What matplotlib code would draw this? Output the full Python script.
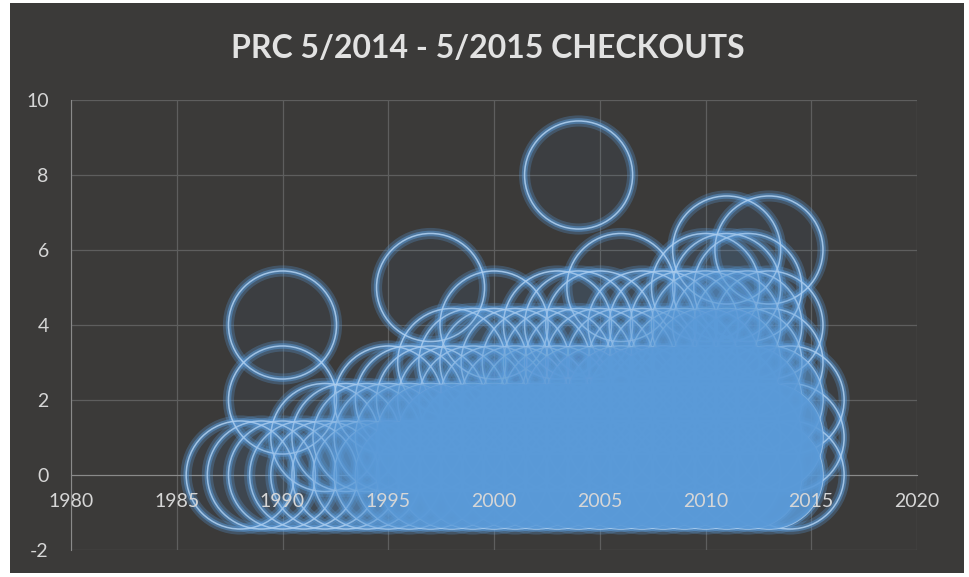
import numpy as np
import matplotlib
matplotlib.use("Agg")
import matplotlib.pyplot as plt
from matplotlib.patches import Rectangle

plt.rcParams["axes.unicode_minus"] = False

# checkouts per item vs. publication year (bubble chart, every bubble same size)
# for each checkout level: publication years and how many items sit on that spot
years_0 = list(range(1988, 2015))
items_0 = [1, 1, 1, 1, 1, 1, 2, 3, 4, 5, 6, 6, 7, 7, 8, 8, 9, 9, 10, 10, 10, 10, 10, 10, 10, 9, 1]
years_1 = list(range(1992, 2015))
items_1 = [1, 1, 2, 2, 3, 4, 4, 5, 5, 6, 6, 7, 7, 8, 8, 9, 9, 10, 10, 10, 9, 8, 1]
years_2 = [1990] + list(range(1995, 2015))
items_2 = [1, 1, 1, 1, 1, 1, 2, 2, 2, 2, 3, 3, 3, 4, 4, 5, 5, 5, 5, 4, 1]
years_3 = list(range(1998, 2014))
items_3 = [1, 1, 1, 1, 1, 1, 1, 1, 1, 1, 2, 2, 3, 3, 2, 1]
years_4 = [1990, 2000, 2003, 2004, 2005, 2007, 2008, 2009, 2010, 2011, 2012, 2013]
items_4 = [1, 1, 1, 1, 1, 1, 1, 1, 2, 2, 2, 1]
years_5 = [1997, 2006, 2010, 2011, 2012]
items_5 = [1, 1, 1, 1, 1]
years_6 = [2011, 2013]
items_6 = [1, 1]
years_8 = [2004]
items_8 = [1]

x = np.array(years_0 + years_1 + years_2 + years_3 + years_4 + years_5 + years_6 + years_8)
y = np.array([0] * len(years_0) + [1] * len(years_1) + [2] * len(years_2) + [3] * len(years_3)
             + [4] * len(years_4) + [5] * len(years_5) + [6] * len(years_6) + [8] * len(years_8))
n = np.array(items_0 + items_1 + items_2 + items_3 + items_4 + items_5 + items_6 + items_8)

bg = "#3b3a39"
blue = "#5a9ad8"
ring = "#b4d3f2"

fig = plt.figure(figsize=(9.69, 5.77), dpi=100, facecolor="white")
fig.patches.append(Rectangle((10 / 969, 4 / 577), 954 / 969, 570 / 577,
                             transform=fig.transFigure, facecolor=bg, edgecolor="none", zorder=-5))
ax = fig.add_axes([71 / 969, 1 - 550 / 577, 846 / 969, 450 / 577])
ax.set_facecolor(bg)

ax.set_xlim(1980, 2020)
ax.set_ylim(-2, 10)
ax.set_xticks(range(1980, 2021, 5))
ax.set_yticks(range(-2, 11, 2))

# grid under the bubbles, x labels over them
grid_c = "#5e5e5e"
ax.yaxis.grid(True, color=grid_c, linewidth=0.9)
ax.yaxis.set_zorder(0.5)
for t in ax.get_xticks():
    ax.axvline(t, color=grid_c, linewidth=0.9, zorder=0.5)
ax.xaxis.set_zorder(6)

size = 6050  # bubble of ~54 px radius
ax.scatter(x, y, s=size, facecolors="none", edgecolors=blue, linewidths=8, alpha=0.28, zorder=2)
ax.scatter(x, y, s=size, facecolors="none", edgecolors=blue, linewidths=4, alpha=0.5, zorder=2)
ax.scatter(x, y, s=size, facecolors="none", edgecolors=ring, linewidths=1.1, alpha=0.85, zorder=2)

# stacked items build up the solid blue mass, covering the rings underneath
face = np.zeros((len(n), 4))
face[:, :3] = matplotlib.colors.to_rgb(blue)
face[:, 3] = 1 - 0.95 * 0.78 ** (n - 1)
ax.scatter(x, y, s=size, facecolors=face, edgecolors="none", zorder=3)

for s in ["top", "right"]:
    ax.spines[s].set_visible(False)
ax.spines["bottom"].set_position(("data", 0))
ax.spines["bottom"].set_color("#8a8a8a")
ax.spines["left"].set_color("#8a8a8a")
ax.spines["bottom"].set_zorder(1)
ax.spines["left"].set_zorder(1)

ax.tick_params(axis="x", length=0, pad=13, labelsize=14, labelcolor="#d6d6d6")
ax.tick_params(axis="y", length=0, pad=16, labelsize=14, labelcolor="#d6d6d6")
for lab in ax.get_xticklabels() + ax.get_yticklabels():
    lab.set_fontfamily("Lato")

fig.text(0.503, 1 - 48 / 577, "PRC 5/2014 - 5/2015 CHECKOUTS", ha="center", va="center",
         fontsize=23, fontweight="bold", color="#e2e2e2", fontfamily="Lato")

fig.savefig("out.png", dpi=100, facecolor=fig.get_facecolor())
